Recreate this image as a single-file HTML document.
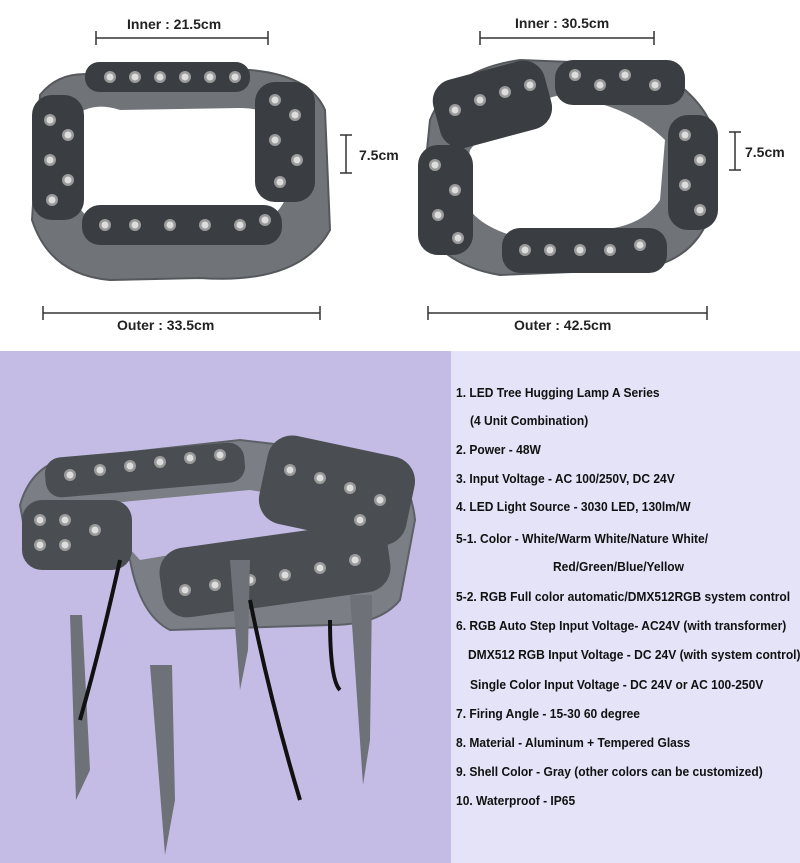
<!DOCTYPE html>
<html><head><meta charset="utf-8"><style>
body{margin:0;width:800px;height:863px;position:relative;background:#fff;font-family:"Liberation Sans",sans-serif;overflow:hidden}
.t{position:absolute;font-weight:bold;font-size:13px;color:#111;white-space:nowrap;transform:scaleX(0.925);transform-origin:left center}
.d{position:absolute;font-weight:bold;font-size:14px;color:#222}
</style></head><body>
<svg width="800" height="863" style="position:absolute;left:0;top:0">
<defs>
<g id="led"><circle r="6" fill="#9a9a9a"/><circle r="3.5" fill="#ddd"/></g>
</defs>
<g stroke="#333" stroke-width="1.5">
<line x1="96" y1="38" x2="268" y2="38"/><line x1="96" y1="31" x2="96" y2="45"/><line x1="268" y1="31" x2="268" y2="45"/>
<line x1="480" y1="38" x2="654" y2="38"/><line x1="480" y1="31" x2="480" y2="45"/><line x1="654" y1="31" x2="654" y2="45"/>
<line x1="43" y1="313" x2="320" y2="313"/><line x1="43" y1="306" x2="43" y2="320"/><line x1="320" y1="306" x2="320" y2="320"/>
<line x1="428" y1="313" x2="707" y2="313"/><line x1="428" y1="306" x2="428" y2="320"/><line x1="707" y1="306" x2="707" y2="320"/>
<line x1="346" y1="135" x2="346" y2="173"/><line x1="340" y1="135" x2="352" y2="135"/><line x1="340" y1="173" x2="352" y2="173"/>
<line x1="735" y1="132" x2="735" y2="170"/><line x1="729" y1="132" x2="741" y2="132"/><line x1="729" y1="170" x2="741" y2="170"/>
</g>
<g fill="#707479" stroke="#55585c" stroke-width="2">
<path d="M40 95 Q60 70 95 75 L250 70 Q310 75 325 110 L330 230 Q300 285 200 278 L110 280 Q50 275 32 220 Z"/>
</g>
<path d="M70 120 Q90 100 120 110 L240 108 Q280 108 290 140 L285 200 Q270 230 230 225 L120 228 Q80 225 72 190 Z" fill="#fff"/>
<g fill="#3a3d42"><rect x="85" y="62" width="165" height="30" rx="14"/><rect x="255" y="82" width="60" height="120" rx="20"/><rect x="32" y="95" width="52" height="125" rx="20"/><rect x="82" y="205" width="200" height="40" rx="18"/></g>
<g>
<use href="#led" x="110" y="77"/><use href="#led" x="135" y="77"/><use href="#led" x="160" y="77"/><use href="#led" x="185" y="77"/><use href="#led" x="210" y="77"/><use href="#led" x="235" y="77"/>
<use href="#led" x="50" y="120"/><use href="#led" x="68" y="135"/><use href="#led" x="50" y="160"/><use href="#led" x="68" y="180"/><use href="#led" x="52" y="200"/>
<use href="#led" x="275" y="100"/><use href="#led" x="295" y="115"/><use href="#led" x="275" y="140"/><use href="#led" x="297" y="160"/><use href="#led" x="280" y="182"/>
<use href="#led" x="105" y="225"/><use href="#led" x="135" y="225"/><use href="#led" x="170" y="225"/><use href="#led" x="205" y="225"/><use href="#led" x="240" y="225"/><use href="#led" x="265" y="220"/>
</g>
<g fill="#707479" stroke="#55585c" stroke-width="2">
<path d="M430 120 Q450 70 520 60 L650 65 Q710 100 715 140 L710 215 Q690 270 620 270 L500 275 Q440 265 420 220 Z"/>
</g>
<path d="M470 150 Q500 110 560 95 Q630 105 665 140 L660 200 Q640 230 590 230 L510 235 Q465 220 462 190 Z" fill="#fff"/>
<g fill="#3a3d42"><rect x="435" y="70" width="115" height="70" rx="22" transform="rotate(-15 490 105)"/><rect x="555" y="60" width="130" height="45" rx="18"/><rect x="668" y="115" width="50" height="115" rx="20"/><rect x="418" y="145" width="55" height="110" rx="20"/><rect x="502" y="228" width="165" height="45" rx="18"/></g>
<g>
<use href="#led" x="455" y="110"/><use href="#led" x="480" y="100"/><use href="#led" x="505" y="92"/><use href="#led" x="530" y="85"/>
<use href="#led" x="575" y="75"/><use href="#led" x="600" y="85"/><use href="#led" x="625" y="75"/><use href="#led" x="655" y="85"/>
<use href="#led" x="685" y="135"/><use href="#led" x="700" y="160"/><use href="#led" x="685" y="185"/><use href="#led" x="700" y="210"/>
<use href="#led" x="435" y="165"/><use href="#led" x="455" y="190"/><use href="#led" x="438" y="215"/><use href="#led" x="458" y="238"/>
<use href="#led" x="525" y="250"/><use href="#led" x="550" y="250"/><use href="#led" x="580" y="250"/><use href="#led" x="610" y="250"/><use href="#led" x="640" y="245"/>
</g>
<rect x="0" y="351" width="451" height="512" fill="#c4bce4"/>
<rect x="451" y="351" width="349" height="512" fill="#e4e3f7"/>
<g fill="#7b7f85" stroke="#5d6066" stroke-width="2">
<path d="M20 505 Q30 470 60 460 L240 440 L370 455 Q410 470 415 520 L400 600 Q380 625 330 625 L170 630 Q140 615 130 560 Q60 560 30 560 Z"/>
</g>
<path d="M90 505 L250 490 L340 505 L345 545 L200 550 L140 560 Z" fill="#c4bce4"/>
<g fill="#4a4d52"><rect x="45" y="450" width="200" height="40" rx="16" transform="rotate(-5 145 470)"/><rect x="262" y="445" width="150" height="90" rx="25" transform="rotate(12 335 490)"/><rect x="22" y="500" width="110" height="70" rx="20"/><rect x="160" y="535" width="230" height="70" rx="25" transform="rotate(-8 275 570)"/></g>
<g>
<use href="#led" x="70" y="475"/><use href="#led" x="100" y="470"/><use href="#led" x="130" y="466"/><use href="#led" x="160" y="462"/><use href="#led" x="190" y="458"/><use href="#led" x="220" y="455"/>
<use href="#led" x="40" y="520"/><use href="#led" x="65" y="520"/><use href="#led" x="40" y="545"/><use href="#led" x="65" y="545"/><use href="#led" x="95" y="530"/>
<use href="#led" x="290" y="470"/><use href="#led" x="320" y="478"/><use href="#led" x="350" y="488"/><use href="#led" x="380" y="500"/><use href="#led" x="360" y="520"/>
<use href="#led" x="185" y="590"/><use href="#led" x="215" y="585"/><use href="#led" x="250" y="580"/><use href="#led" x="285" y="575"/><use href="#led" x="320" y="568"/><use href="#led" x="355" y="560"/>
</g>
<g fill="#6e7278"><polygon points="70,615 82,615 90,770 76,800"/><polygon points="150,665 172,665 175,800 165,855"/><polygon points="350,595 372,595 370,740 363,785"/><polygon points="230,560 250,560 248,650 240,690"/></g>
<g stroke="#111" stroke-width="4" fill="none"><path d="M120 560 Q100 650 80 720"/><path d="M250 600 Q270 700 300 800"/><path d="M330 620 Q330 680 340 690"/></g>
</svg>
<div class="d" style="left:127px;top:16px">Inner : 21.5cm</div>
<div class="d" style="left:515px;top:15px">Inner : 30.5cm</div>
<div class="d" style="left:117px;top:317px">Outer : 33.5cm</div>
<div class="d" style="left:514px;top:317px">Outer : 42.5cm</div>
<div class="d" style="left:359px;top:147px">7.5cm</div>
<div class="d" style="left:745px;top:144px">7.5cm</div>
<div class="t" style="left:456px;top:385px">1. LED Tree Hugging Lamp A Series</div>
<div class="t" style="left:470px;top:413px">(4 Unit Combination)</div>
<div class="t" style="left:456px;top:442px">2. Power - 48W</div>
<div class="t" style="left:456px;top:471px">3. Input Voltage - AC 100/250V, DC 24V</div>
<div class="t" style="left:456px;top:499px">4. LED Light Source - 3030 LED, 130lm/W</div>
<div class="t" style="left:456px;top:531px">5-1. Color - White/Warm White/Nature White/</div>
<div class="t" style="left:553px;top:559px">Red/Green/Blue/Yellow</div>
<div class="t" style="left:456px;top:589px">5-2. RGB Full color automatic/DMX512RGB system control</div>
<div class="t" style="left:456px;top:618px">6. RGB Auto Step Input Voltage- AC24V (with transformer)</div>
<div class="t" style="left:468px;top:647px">DMX512 RGB Input Voltage - DC 24V (with system control)</div>
<div class="t" style="left:470px;top:677px">Single Color Input Voltage - DC 24V or AC 100-250V</div>
<div class="t" style="left:456px;top:706px">7. Firing Angle - 15-30 60 degree</div>
<div class="t" style="left:456px;top:735px">8. Material - Aluminum + Tempered Glass</div>
<div class="t" style="left:456px;top:764px">9. Shell Color - Gray (other colors can be customized)</div>
<div class="t" style="left:456px;top:793px">10. Waterproof - IP65</div>
</body></html>
